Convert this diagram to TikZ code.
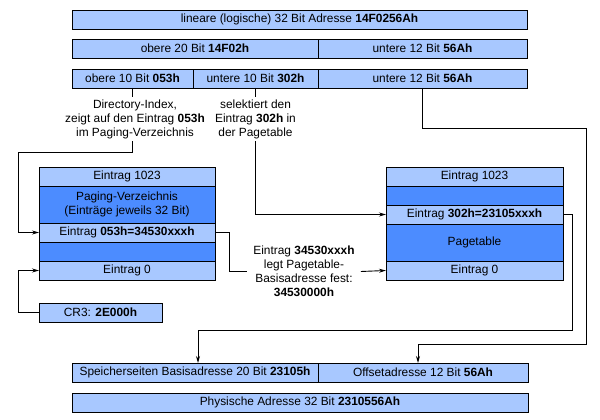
\documentclass[tikz,border=0pt]{standalone}
\usepackage{fontspec}
\setmainfont{Liberation Sans}
\usetikzlibrary{arrows.meta}
\definecolor{lb}{HTML}{A8C8FF}
\definecolor{db}{HTML}{4C8CFF}
\begin{document}
\begin{tikzpicture}[x=1pt,y=-1pt,
  box/.style={draw, fill=lb, line width=0.9pt, inner sep=0pt, outer sep=0pt, anchor=north west, minimum height=19pt, align=center, font=\fontsize{11.9}{13.8}\selectfont},
  dbox/.style={box, fill=db},
  lbl/.style={align=center, inner sep=2.5pt, font=\fontsize{11.9}{14}\selectfont},
  ln/.style={line width=0.9pt},
  arr/.style={ln, -{Stealth[length=7pt,width=4pt]}}
]
\useasboundingbox (0,0) rectangle (600,420);
% linear address rows
\node[box, minimum width=455pt] (lin) at (72,10) {lineare (logische) 32 Bit Adresse \textbf{14F0256Ah}};
\node[box, minimum width=246pt] (o20) at (72,39) {obere 20 Bit \textbf{14F02h}};
\node[box, minimum width=209pt] (u20) at (318,39) {untere 12 Bit \textbf{56Ah}};
\node[box, minimum width=121pt] (o10) at (72,69) {obere 10 Bit \textbf{053h}};
\node[box, minimum width=125pt] (u10) at (193,69) {untere 10 Bit \textbf{302h}};
\node[box, minimum width=209pt] (u12b) at (318,69) {untere 12 Bit \textbf{56Ah}};
% explanatory texts
\node[lbl, anchor=north] (dirtxt) at (135,97) {Directory-Index,\\zeigt auf den Eintrag \textbf{053h}\\im Paging-Verzeichnis};
\node[lbl, anchor=north] (seltxt) at (255.5,97) {selektiert den\\Eintrag \textbf{302h} in\\der Pagetable};
% left box: paging directory
\node[box, minimum width=176pt] (L1023) at (39,167) {Eintrag 1023};
\node[dbox, minimum width=176pt, minimum height=37pt] (Lpv) at (39,186) {Paging-Verzeichnis\\(Einträge jeweils 32 Bit)};
\node[box, minimum width=176pt] (L053) at (39,223) {Eintrag \textbf{053h=34530xxxh}};
\node[dbox, minimum width=176pt] (Lmid) at (39,242) {};
\node[box, minimum width=176pt] (L0) at (39,261) {Eintrag 0};
\node[box, minimum width=123pt] (cr3) at (39,303) {CR3: \textbf{2E000h}};
% right box: page table
\node[box, minimum width=177pt] (R1023) at (386,167) {Eintrag 1023};
\node[dbox, minimum width=177pt] (Rmid) at (386,186) {};
\node[box, minimum width=177pt] (R302) at (386,205) {Eintrag \textbf{302h=23105xxxh}};
\node[dbox, minimum width=177pt, minimum height=37pt] (Rpt) at (386,224) {Pagetable};
\node[box, minimum width=177pt] (R0) at (386,261) {Eintrag 0};
% middle text
\node[lbl, inner xsep=6pt] (midtxt) at (304,271.5) {Eintrag \textbf{34530xxxh}\\legt Pagetable-\\Basisadresse fest:\\\textbf{34530000h}};
% physical address rows
\node[box, minimum width=246pt] (sp) at (72,363) {Speicherseiten Basisadresse 20 Bit \textbf{23105h}};
\node[box, minimum width=210pt] (off) at (318,363) {Offsetadresse 12 Bit \textbf{56Ah}};
\node[box, minimum width=456pt] (phys) at (72,393) {Physische Adresse 32 Bit \textbf{2310556Ah}};
% bend points
\coordinate (d1) at (18,152);
\coordinate (e1) at (586,128);
\coordinate (e2) at (418,344);
\coordinate (f2) at (198,330);
% connectors
\draw[ln] (o10.south) -- (o10.south |- dirtxt.north);
\draw[arr] (o10.south |- dirtxt.south) |- (d1) |- (L053.west);
\draw[ln] (u10.south) -- (seltxt.north);
\draw[arr] (seltxt.south) |- (R302.west);
\draw[arr] (u12b.south) |- (e1) |- (e2) -- (e2 |- off.north);
\draw[arr] (R302.east) -- ++(9,0) |- (f2) -- (f2 |- sp.north);
\draw[ln] (L053.east) -- ++(14,0) |- (midtxt.west);
\draw[arr] (midtxt.east) -- (R0.west);
\draw[arr] (cr3.west) -- ++(-21,0) |- (L0.west);
\end{tikzpicture}
\end{document}
